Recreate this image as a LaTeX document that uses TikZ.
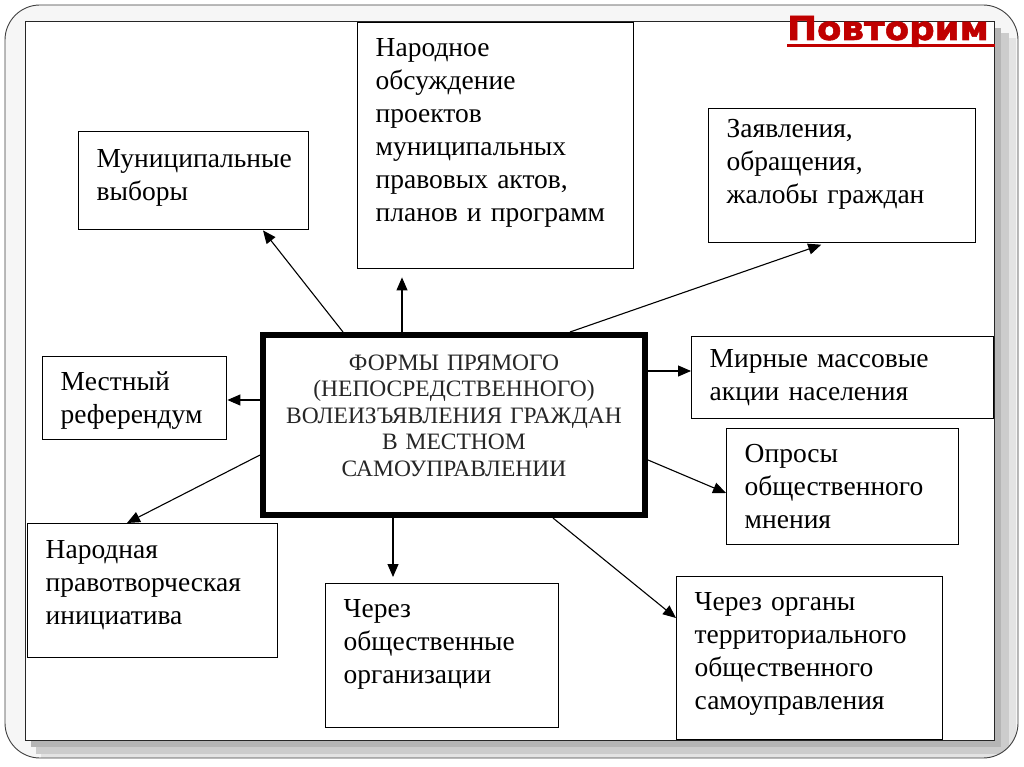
\documentclass[tikz,border=0pt]{standalone}
\usepackage{fontspec}
\setmainfont{Liberation Serif}
\newfontfamily\titlefont[FakeStretch=1.08, FakeBold=1.6]{DejaVu Sans Bold}
\usepackage{tikz}
\usetikzlibrary{arrows.meta}
\definecolor{slidered}{HTML}{C00000}

\begin{document}
\begin{tikzpicture}[
    x=1pt, y=-1pt,
    form/.style={draw, line width=1.4pt, anchor=north west, align=left,
                 inner xsep=18pt, inner ysep=0pt,
                 font=\fontsize{27.5}{33}\selectfont},
    core/.style={draw, line width=6pt, anchor=north west, align=center,
                 inner xsep=8pt, inner ysep=0pt, text=black!85,
                 font=\fontsize{23.5}{26.5}\selectfont},
    rel/.style={line width=1.1pt, -{Triangle[length=13pt, width=11pt]}}
]
\path[use as bounding box, fill=white] (0,0) rectangle (1024,767);

% slide frame with shadow
\fill[gray!7, rounded corners=35pt] (5,5) rectangle (1018,758);
\begin{scope}
  \clip[rounded corners=35pt] (5,5) rectangle (1018,758);
  \fill[gray!22] (41,38) rectangle (1016,758);
  \fill[gray!40] (36,33) rectangle (1009,754);
  \fill[gray!58] (31,28) rectangle (1001,747);
\end{scope}
\draw[black!75, line width=0.9pt, rounded corners=35pt] (5,5) rectangle (1018,758);
\draw[black!85, fill=white, line width=1pt] (25,22) rectangle (994,740);

% title
\node[anchor=base west, inner sep=0pt, text=slidered,
      font=\titlefont\fontsize{33}{33}\selectfont] (title) at (787,40) {Повторим};
\draw[slidered, line width=3pt] (787,46) -- (995,46);

\node[core, text width=366pt, text height=35pt, text depth=145pt] (core) at (260,332)
  {ФОРМЫ ПРЯМОГО\\(НЕПОСРЕДСТВЕННОГО)\\ВОЛЕИЗЪЯВЛЕНИЯ ГРАЖДАН\\В МЕСТНОМ\\САМОУПРАВЛЕНИИ};

\node[form, text width=194pt, text height=36pt, text depth=62pt] (elect) at (78,131)
  {Муниципальные\\выборы};
\node[form, text width=240pt, text height=34pt, text depth=212pt] (discuss) at (357,22)
  {Народное\\обсуждение\\проектов\\муниципальных\\правовых актов,\\планов и программ};
\node[form, text width=231pt, text height=29pt, text depth=105pt] (appeal) at (708,108)
  {Заявления,\\обращения,\\жалобы граждан};
\node[form, text width=148pt, text height=34pt, text depth=49pt] (refer) at (42,356)
  {Местный\\референдум};
\node[form, text width=266pt, text height=31pt, text depth=51pt] (rally) at (691,336)
  {Мирные массовые\\акции населения};
\node[form, text width=196pt, text height=34pt, text depth=82pt] (poll) at (726,428)
  {Опросы\\общественного\\мнения};
\node[form, text width=214pt, text height=35pt, text depth=99pt] (initiative) at (27,523)
  {Народная\\правотворческая\\инициатива};
\node[form, text width=197pt, text height=34pt, text depth=110pt] (orgs) at (325,583)
  {Через\\общественные\\организации};
\node[form, text width=230pt, text height=34pt, text depth=129pt] (tos) at (676,576)
  {Через органы\\территориального\\общественного\\самоуправления};

% arrows from the centre
\draw[rel] ([xshift=83pt]core.north west) -- ([xshift=185pt]elect.south west);
\draw[rel, shorten >=8pt] ([xshift=142pt]core.north west) -- ([xshift=45pt]discuss.south west);
\draw[rel, shorten >=4pt] ([xshift=310pt]core.north west) -- ([xshift=117pt]appeal.south west);
\draw[rel] ([yshift=-39pt]core.north east) -- ([yshift=-35pt]rally.north west);
\draw[rel] ([yshift=-68pt]core.north west) -- ([yshift=-44pt]refer.north east);
\draw[rel] ([yshift=-128pt]core.north east) -- ([yshift=-65pt]poll.north west);
\draw[rel] ([yshift=-123pt]core.north west) -- ([xshift=100pt]initiative.north west);
\draw[rel, shorten >=6pt] ([xshift=133pt]core.south west) -- ([xshift=68pt]orgs.north west);
\draw[rel] ([xshift=-95pt]core.south east) -- ([yshift=-42pt]tos.north west);
\end{tikzpicture}
\end{document}
